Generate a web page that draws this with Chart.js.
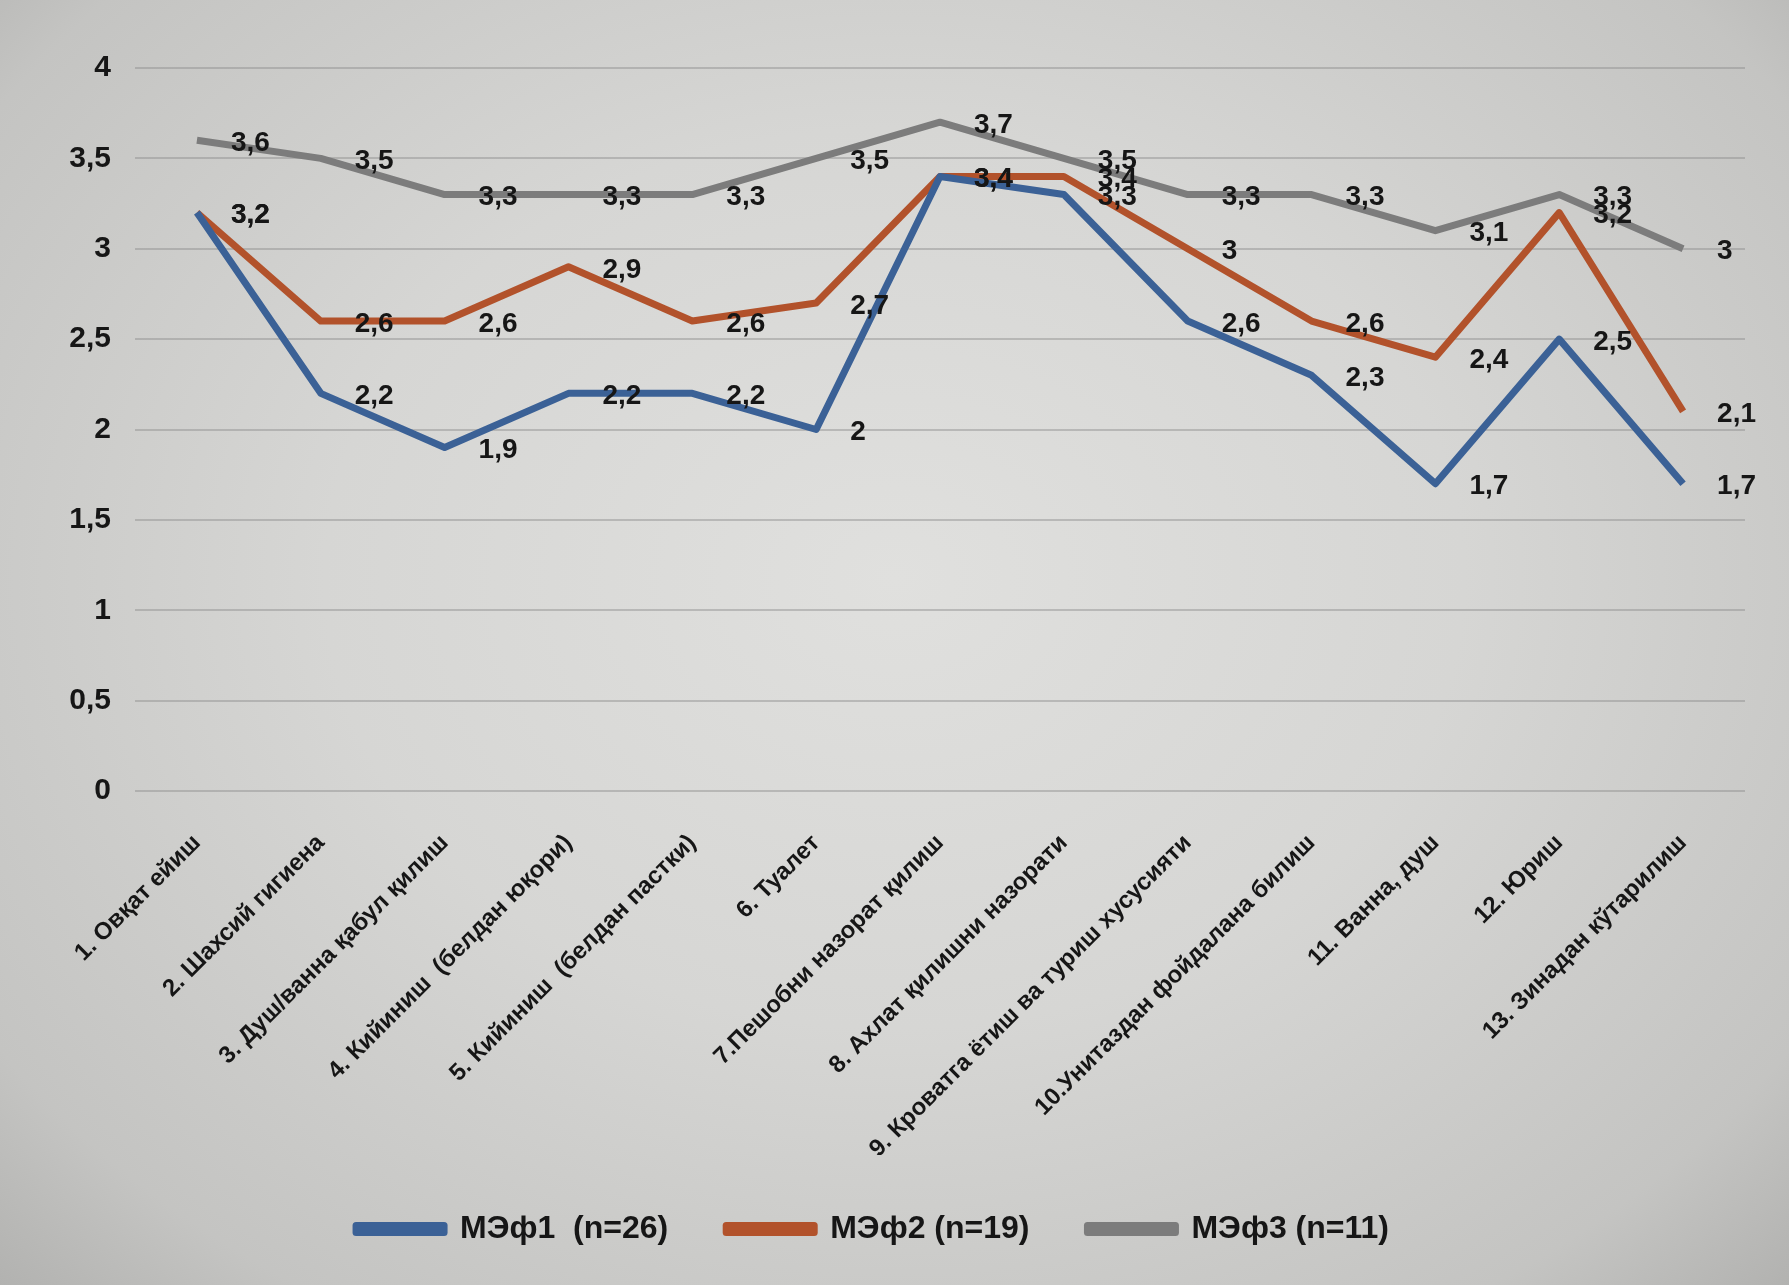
<!DOCTYPE html>
<html>
<head>
<meta charset="utf-8">
<script src="https://cdn.jsdelivr.net/npm/chart.js@4/dist/chart.umd.min.js"></script>
<style>
  html, body { margin: 0; padding: 0; }
  body {
    width: 1789px; height: 1285px; overflow: hidden;
    background: radial-gradient(ellipse at 50% 45%, #e0e0de 0%, #d6d6d4 45%, #c4c4c2 85%, #b2b2b0 100%);
  }
  #wrap { position: absolute; left: 0; top: 0; width: 1789px; height: 1285px; }
</style>
</head>
<body>
<div id="wrap"><canvas id="c" width="1789" height="1285"></canvas></div>
<script>
const categories = [
  '1. Овқат ейиш',
  '2. Шахсий гигиена',
  '3. Душ/ванна қабул қилиш',
  '4. Кийиниш  (белдан юқори)',
  '5. Кийиниш  (белдан пастки)',
  '6. Туалет',
  '7.Пешобни назорат қилиш',
  '8. Ахлат қилишни назорати',
  '9. Кроватга ётиш ва туриш хусусияти',
  '10.Унитаздан фойдалана билиш',
  '11. Ванна, душ',
  '12. Юриш',
  '13. Зинадан кўтарилиш'
];
const mef1 = [3.2, 2.2, 1.9, 2.2, 2.2, 2.0, 3.4, 3.3, 2.6, 2.3, 1.7, 2.5, 1.7];
const mef2 = [3.2, 2.6, 2.6, 2.9, 2.6, 2.7, 3.4, 3.4, 3.0, 2.6, 2.4, 3.2, 2.1];
const mef3 = [3.6, 3.5, 3.3, 3.3, 3.3, 3.5, 3.7, 3.5, 3.3, 3.3, 3.1, 3.3, 3.0];
const seriesNames = ['МЭф1  (n=26)', 'МЭф2 (n=19)', 'МЭф3 (n=11)'];
const yTicks = [0, 0.5, 1, 1.5, 2, 2.5, 3, 3.5, 4];

const FONT = '"Liberation Sans", "DejaVu Sans", sans-serif';
const INK = '#161616';
const fmt = v => String(v).replace('.', ',');

// value labels placed to the right of each point
const valueLabels = {
  id: 'valueLabels',
  afterDatasetsDraw(chart) {
    const ctx = chart.ctx;
    ctx.save();
    ctx.font = 'bold 28px ' + FONT;
    ctx.fillStyle = INK;
    ctx.textAlign = 'left';
    ctx.textBaseline = 'middle';
    chart.data.datasets.forEach((ds, i) => {
      const meta = chart.getDatasetMeta(i);
      meta.data.forEach((pt, j) => {
        ctx.fillText(fmt(ds.data[j]), pt.x + 34, pt.y + 3);
      });
    });
    ctx.restore();
  }
};

const mk = (label, data, color) => ({
  label, data,
  borderColor: color,
  backgroundColor: color,
  borderWidth: 7,
  pointRadius: 0,
  tension: 0,
  borderJoinStyle: 'round'
});

new Chart(document.getElementById('c'), {
  type: 'line',
  data: {
    labels: categories,
    datasets: [
      mk(seriesNames[0], mef1, '#3b6196'),
      mk(seriesNames[1], mef2, '#b2522b'),
      mk(seriesNames[2], mef3, '#7c7c7c')
    ]
  },
  options: {
    responsive: false,
    animation: false,
    layout: { padding: { left: 0, right: 44, top: 68, bottom: 30 } },
    plugins: {
      legend: {
        position: 'bottom',
        labels: {
          boxWidth: 88,
          boxHeight: 7,
          padding: 58,
          color: INK,
          font: { family: FONT, size: 32, weight: 'bold' }
        }
      },
      tooltip: { enabled: false }
    },
    scales: {
      x: {
        offset: true,
        grid: { display: false },
        border: { display: false },
        ticks: {
          color: INK,
          autoSkip: false,
          minRotation: 45,
          maxRotation: 45,
          padding: 30,
          font: { family: FONT, size: 24, weight: 'bold' }
        },
        afterFit(scale) { scale.height = 364; }
      },
      y: {
        min: 0, max: 4,
        afterBuildTicks(scale) { scale.ticks = yTicks.map(v => ({ value: v })); },
        grid: { color: 'rgba(140,140,140,0.45)', lineWidth: 2, drawTicks: false },
        border: { display: false },
        ticks: {
          color: INK,
          padding: 24,
          font: { family: FONT, size: 30, weight: 'bold' },
          callback: v => fmt(v)
        },
        afterFit(scale) { scale.width = 135; }
      }
    }
  },
  plugins: [valueLabels]
});
</script>
</body>
</html>
